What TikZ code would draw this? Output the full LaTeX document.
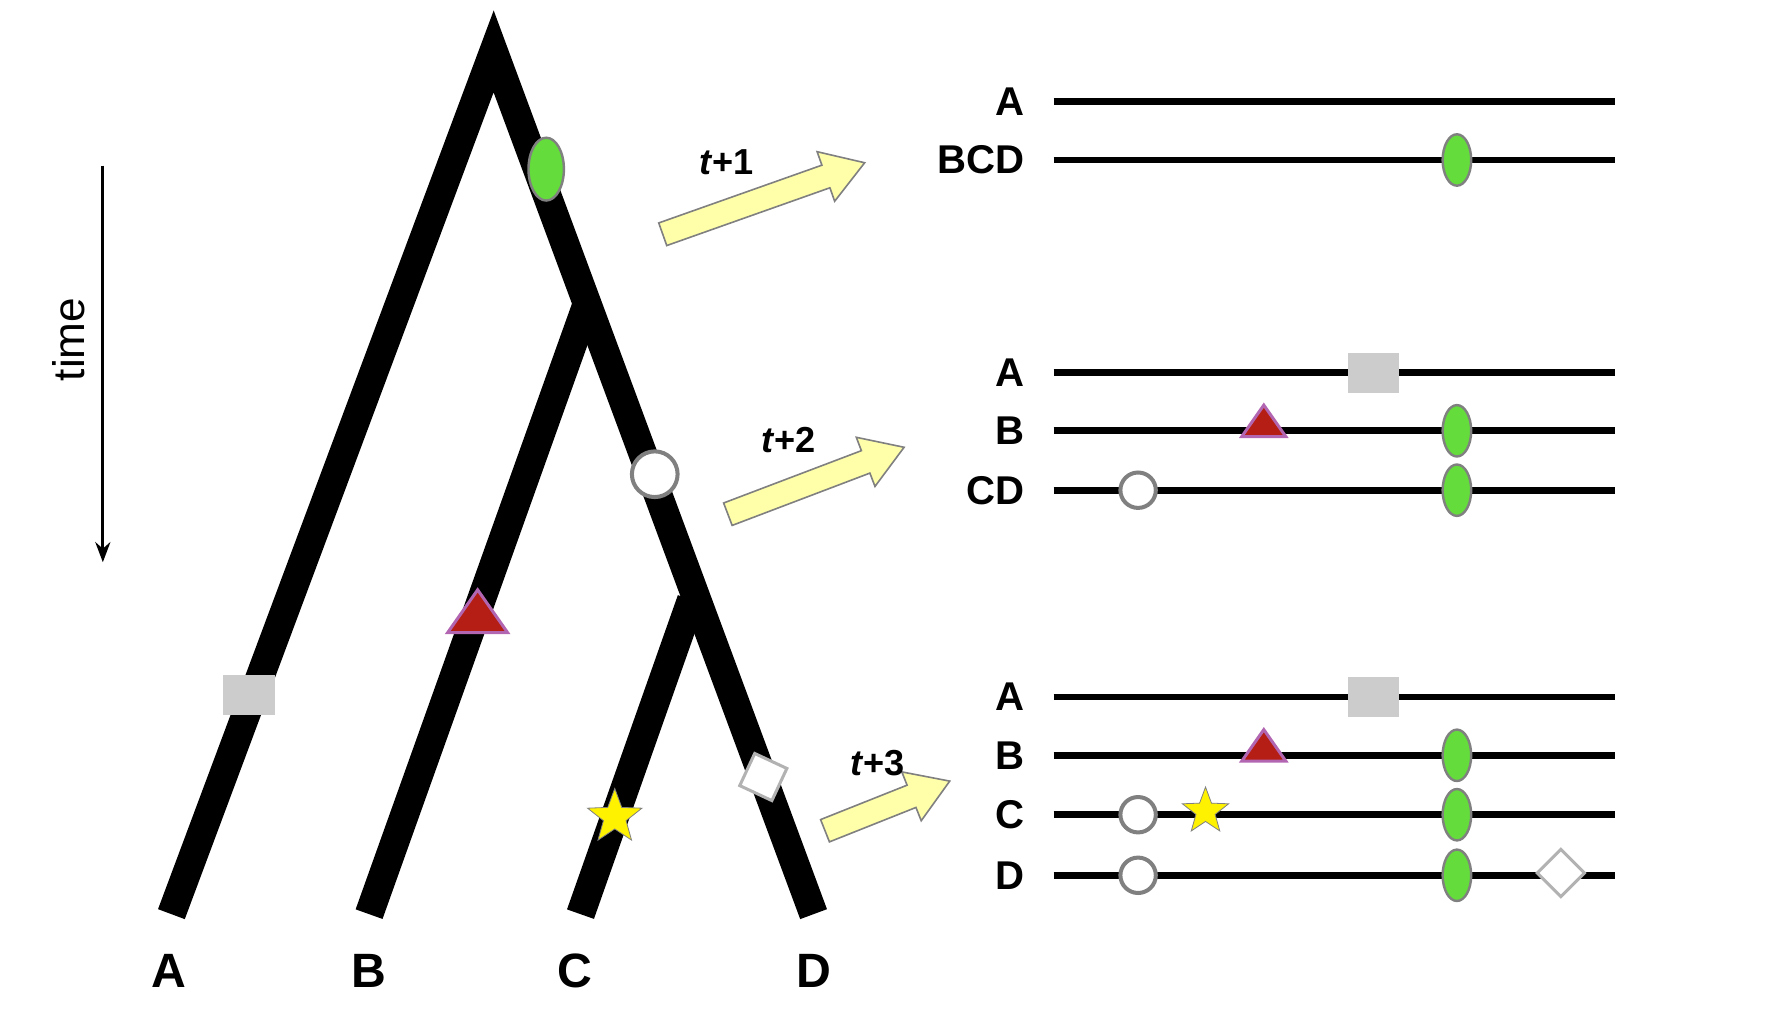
\documentclass[tikz,border=0pt]{standalone}
\usepackage{fontspec}
\setmainfont{Liberation Sans}
\usetikzlibrary{shapes.geometric,arrows.meta}
\definecolor{grn}{RGB}{100,220,60}
\definecolor{tri}{RGB}{180,30,20}
\definecolor{pale}{RGB}{255,255,170}
\begin{document}
\begin{tikzpicture}[x=0.02cm,y=-0.02cm,
  branch/.style={line width=0.5cm},
  seq/.style={line width=0.12cm},
  gm/.style={ellipse,fill=grn,draw=gray,line width=1.2pt,minimum width=0.62cm,minimum height=1.1cm,inner sep=0},
  gs/.style={ellipse,fill=grn,draw=gray,line width=1.2pt,minimum width=0.5cm,minimum height=0.9cm,inner sep=0},
  sq/.style={rectangle,fill=black!20,minimum width=0.9cm,minimum height=0.7cm,inner sep=0},
  trm/.style={isosceles triangle,isosceles triangle apex angle=70,shape border rotate=90,fill=tri,draw=violet!60,line width=1.5pt,minimum height=0.75cm,inner sep=0},
  cir/.style={circle,fill=white,draw=gray,line width=2pt,minimum size=0.62cm,inner sep=0},
  str/.style={star,star points=5,star point ratio=2.4,fill=yellow,draw=gray,minimum size=1.0cm,inner sep=0},
  dia/.style={diamond,fill=white,draw=gray!60,line width=1.5pt,minimum size=0.9cm,inner sep=0},
  fat/.style={fill=pale,draw=gray,line width=0.8pt},
  lab/.style={font=\bfseries\fontsize{24}{24}\selectfont},
  rl/.style={font=\bfseries\fontsize{20}{20}\selectfont,anchor=east},
  tl/.style={font=\bfseries\fontsize{18}{18}\selectfont}]
\useasboundingbox (0,0) rectangle (1563,896);
% tree
\coordinate (root) at (432,45);
\coordinate (n1) at (513,268);
\coordinate (n2) at (605,525);
\coordinate (ta) at (150,800);
\coordinate (tb) at (323,800);
\coordinate (tc) at (508,800);
\coordinate (td) at (712,800);
\draw[branch] (ta) -- (root) -- (td);
\draw[branch] (tb) -- (n1);
\draw[branch] (tc) -- (n2);
\node[lab] (la) at (148,850) {A};
\node[lab] (lb) at (323,850) {B};
\node[lab] (lc) at (503,850) {C};
\node[lab] (ld) at (712,850) {D};
\node[gm] (m1) at (478,148) {};
\node[sq] (m2) at (218,608) {};
\node[trm] (m3) at (418,540) {};
\node[cir,minimum size=0.8cm] (m4) at (573,415) {};
\node[str] (m5) at (538,715) {};
\node[dia,rotate=20] (m6) at (668,680) {};
% time
\coordinate (t0) at (90,145);
\coordinate (t1) at (90,492);
\draw[line width=1.5pt,-{Stealth[length=10pt]}] (t0) -- (t1);
\node[rotate=90,font=\fontsize{22}{22}\selectfont] (time) at (60,297) {time};
% fat arrows
\foreach \sx/\sy/\ang/\L in {580/205/19.5/3.75, 637/450/20.8/3.3, 722/727/21.7/2.35}{
  \begin{scope}[shift={(\sx,\sy)},rotate=\ang,x=1cm,y=1cm]
    \draw[fat] (0,-0.21) -- (\L-0.72,-0.21) -- (\L-0.72,-0.46) -- (\L,0) -- (\L-0.72,0.46) -- (\L-0.72,0.21) -- (0,0.21) -- cycle;
  \end{scope}
}
\node[tl] (l1) at (636,142) {\textit{t}+1};
\node[tl] (l2) at (690,385) {\textit{t}+2};
\node[tl] (l3) at (768,668) {\textit{t}+3};
% right sequences
\foreach \n/\y/\t in {a1/89/A,b1/140/BCD,a2/326/A,b2/377/B,c2/429/CD,a3/610/A,b3/661/B,c3/713/C,d3/766/D}{
  \node[rl] (r\n) at (903,\y) {\t};
  \coordinate (s\n) at (922,\y);
  \coordinate (e\n) at (1413,\y);
  \draw[seq] (s\n) -- (e\n);
}
\node[gs] at (1275,140) {};
\node[sq] at (1202,326) {};
\node[trm,minimum height=0.55cm] at (1106,372) {};
\node[gs] at (1275,377) {};
\node[cir] at (996,429) {};
\node[gs] at (1275,429) {};
\node[sq] at (1202,610) {};
\node[trm,minimum height=0.55cm] at (1106,656) {};
\node[gs] at (1275,661) {};
\node[cir] at (996,713) {};
\node[str,minimum size=0.85cm] at (1055,710) {};
\node[gs] at (1275,713) {};
\node[cir] at (996,766) {};
\node[gs] at (1275,766) {};
\node[dia,minimum size=0.85cm] at (1366,764) {};
\end{tikzpicture}
\end{document}
